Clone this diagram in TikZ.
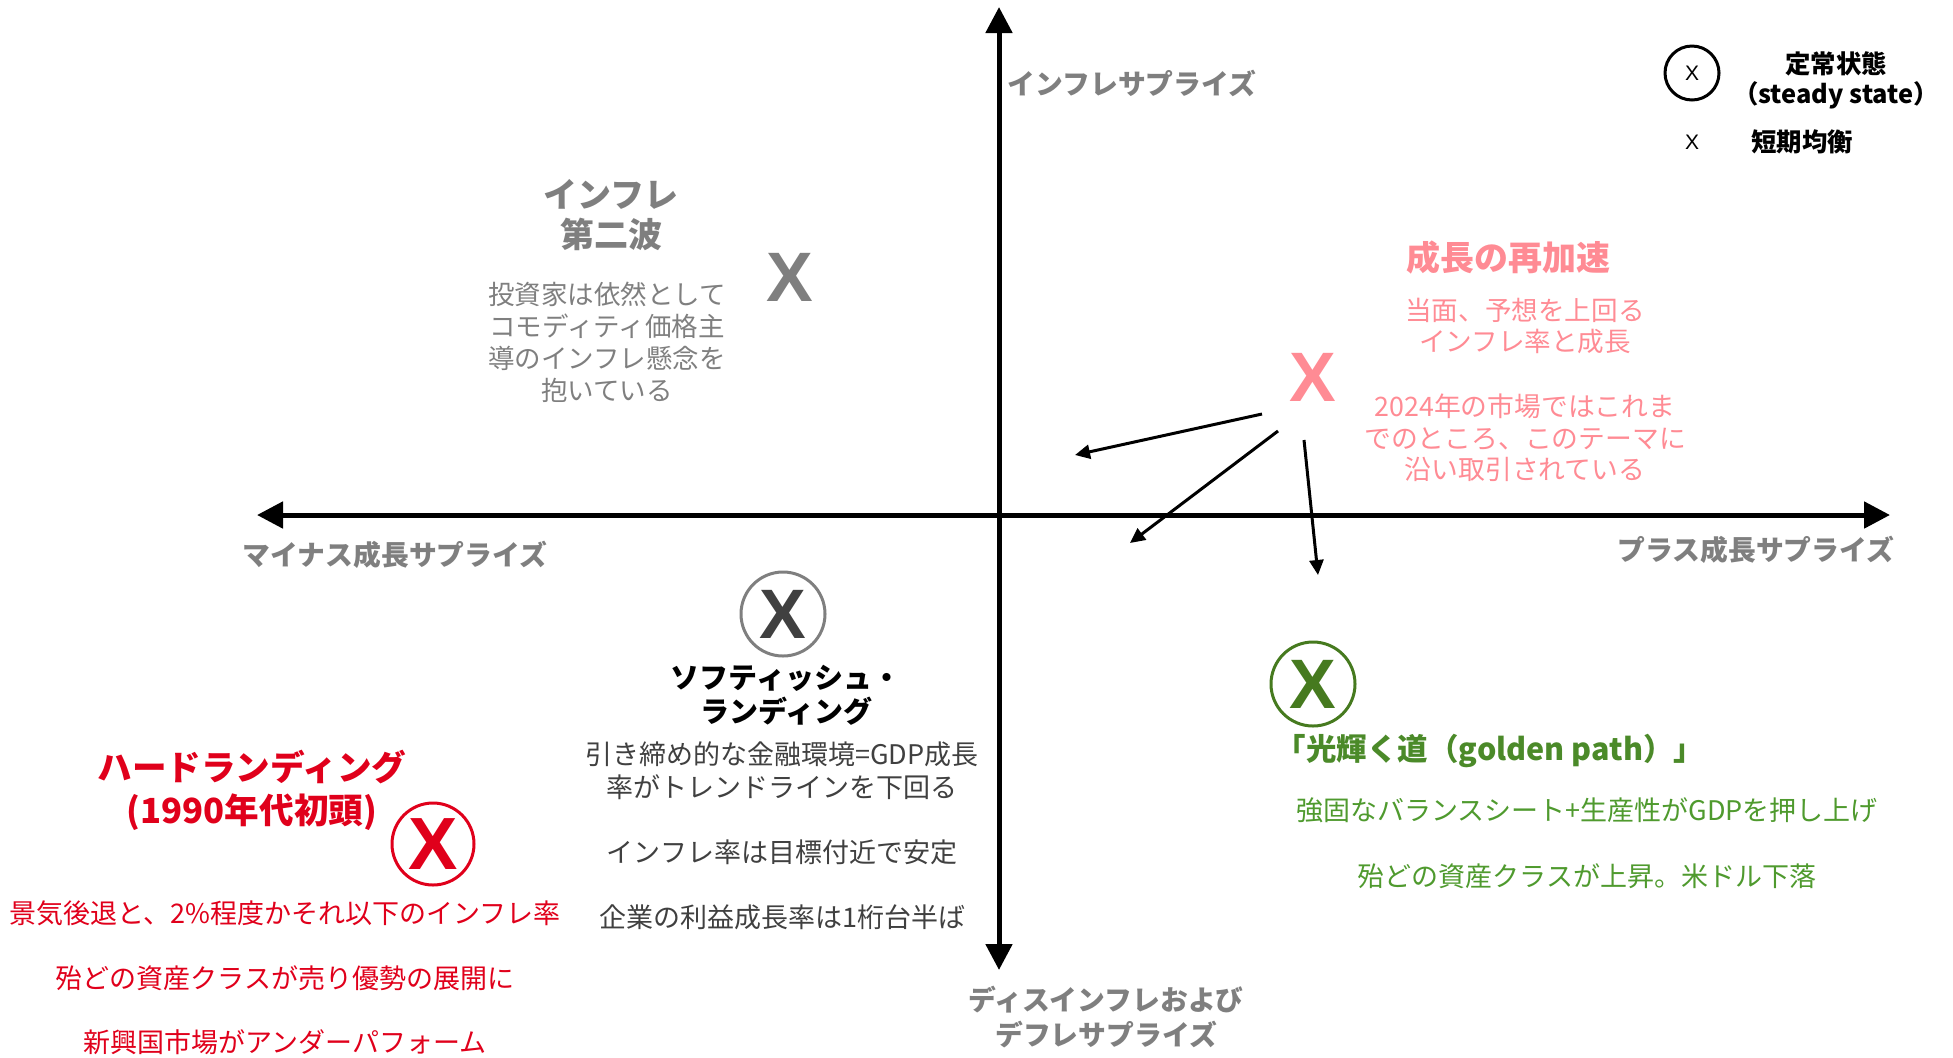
\documentclass[tikz,border=0pt]{standalone}
\usepackage{fontspec}
\setmainfont{Noto Sans CJK JP}
\newfontfamily\xfont{Liberation Sans}
\usetikzlibrary{arrows.meta}
\definecolor{axgray}{HTML}{7F7F7F}
\definecolor{dgray}{HTML}{404040}
\definecolor{pink}{HTML}{FF8B94}
\definecolor{hred}{HTML}{E0001B}
\definecolor{gdark}{HTML}{467A1F}
\definecolor{gtitle}{HTML}{4B8A29}
\definecolor{gbody}{HTML}{4F9A2E}
\begin{document}
\begin{tikzpicture}[x=0.5pt,y=-0.5pt,
  every node/.style={inner sep=0pt, align=center},
  axis/.style={line width=2.5pt, {Triangle[length=13pt,width=13pt]}-{Triangle[length=13pt,width=13pt]}},
  move/.style={line width=1.5pt, -{Triangle[length=7.5pt,width=7pt]}},
  body/.style={font=\fontsize{13.5}{16.5}\selectfont},
  axlabel/.style={font=\bfseries\fontsize{13.9}{17.5}\selectfont, text=axgray},
  bigx/.style={font=\xfont\bfseries\fontsize{35}{35}\selectfont},
  ring/.style={circle, draw, line width=1.5pt},
]
\useasboundingbox (0,0) rectangle (1953,1057);

% axes
\coordinate (vtop) at (999,7);
\coordinate (vbot) at (999,970);
\coordinate (hleft) at (257,515);
\coordinate (hright) at (1890,515);
\draw[axis] (vbot) -- (vtop);
\draw[axis] (hleft) -- (hright);

\node[axlabel] (lup) at (1132,83) {インフレサプライズ};
\node[axlabel] (lleft) at (395,555) {マイナス成長サプライズ};
\node[axlabel] (lright) at (1756,550) {プラス成長サプライズ};
\node[axlabel] (ldown) at (1106,1017) {ディスインフレおよび\\デフレサプライズ};

% legend
\node[ring, minimum size=27pt, font=\xfont\fontsize{10.5}{10.5}\selectfont] (legc) at (1692,73) {X};
\node[font=\bfseries\fontsize{12.7}{15}\selectfont] (legt1) at (1836,80) {定常状態\\（steady state）};
\node[font=\xfont\fontsize{10.5}{10.5}\selectfont] (legx) at (1692,142) {X};
\node[font=\bfseries\fontsize{12.7}{15}\selectfont] (legt2) at (1802,142) {短期均衡};

% inflation second wave
\node[text=axgray, font=\bfseries\fontsize{17}{20}\selectfont] (iwt) at (611,215) {インフレ\\第二波};
\node[text=axgray, font=\fontsize{13.25}{16}\selectfont] (iwb) at (607,342) {投資家は依然として\\コモディティ価格主\\導のインフレ懸念を\\抱いている};
\node[bigx, text=axgray] (iwx) at (790,277) {X};

% growth re-acceleration
\node[text=pink, font=\bfseries\fontsize{17}{20}\selectfont] (grt) at (1508,258) {成長の再加速};
\node[text=pink, font=\fontsize{13.3}{15.5}\selectfont] (grb1) at (1525,326) {当面、予想を上回る\\インフレ率と成長};
\node[text=pink, font=\fontsize{13.4}{15.75}\selectfont] (grb2) at (1525,438) {2024年の市場ではこれま\\でのところ、このテーマに\\沿い取引されている};
\node[bigx, text=pink] (grx) at (1313,377) {X};

\coordinate (a1s) at (1262,414);
\coordinate (a1e) at (1075,455);
\coordinate (a2s) at (1278,431);
\coordinate (a2e) at (1130,543);
\coordinate (a3s) at (1304,440);
\coordinate (a3e) at (1318,575);
\draw[move] (a1s) -- (a1e);
\draw[move] (a2s) -- (a2e);
\draw[move] (a3s) -- (a3e);

% soft landing
\node[ring, draw=axgray, minimum size=42pt, bigx, text=dgray] (slx) at (783,614) {X};
\node[font=\bfseries\fontsize{14.5}{17}\selectfont] (slt) at (786,695) {ソフティッシュ・\\ランディング};
\node[body, text=dgray] (slb1) at (782,771) {引き締め的な金融環境=GDP成長\\率がトレンドラインを下回る};
\node[body, text=dgray] (slb2) at (782,852) {インフレ率は目標付近で安定};
\node[body, text=dgray] (slb3) at (782,917) {企業の利益成長率は1桁台半ば};

% hard landing
\node[text=hred, font=\bfseries\fontsize{17.3}{21.5}\selectfont] (hlt) at (252,790) {ハードランディング\\(1990年代初頭)};
\node[ring, draw=hred, minimum size=41pt, bigx, font=\xfont\bfseries\fontsize{37}{37}\selectfont, text=hred] (hlx) at (433,844) {X};
\node[body, text=hred] (hlb1) at (285,913) {景気後退と、2\%程度かそれ以下のインフレ率};
\node[body, text=hred] (hlb2) at (285,978) {殆どの資産クラスが売り優勢の展開に};
\node[body, text=hred] (hlb3) at (285,1042) {新興国市場がアンダーパフォーム};

% golden path
\node[ring, draw=gdark, minimum size=42pt, bigx, text=gdark] (gpx) at (1313,684) {X};
\node[text=gtitle, font=\bfseries\fontsize{15.25}{17}\selectfont] (gpt) at (1490,751) {「光輝く道（golden path）」};
\node[body, text=gbody] (gpb1) at (1587,810) {強固なバランスシート+生産性がGDPを押し上げ};
\node[body, text=gbody] (gpb2) at (1587,876) {殆どの資産クラスが上昇。米ドル下落};
\end{tikzpicture}
\end{document}
